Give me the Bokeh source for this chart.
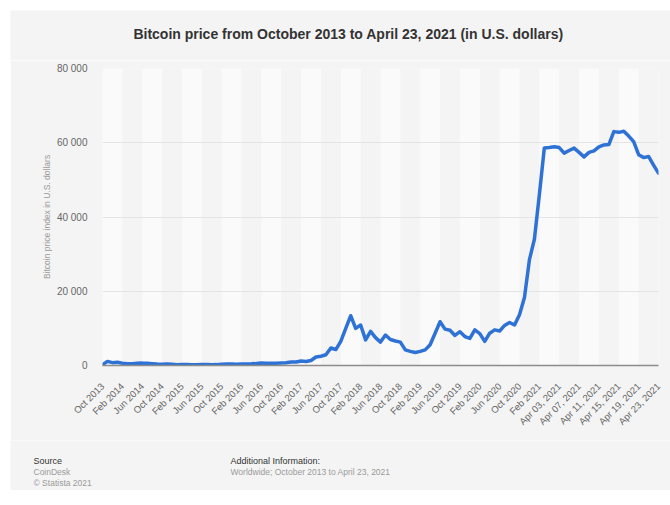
import math
from bokeh.plotting import figure
from bokeh.models import Range1d, FixedTicker, Spacer
from bokeh.layouts import column, row
from bokeh.core.properties import value
from bokeh.embed import file_html
from bokeh.resources import INLINE

# ---- data ----
month_names = ["Jan", "Feb", "Mar", "Apr", "May", "Jun", "Jul", "Aug", "Sep", "Oct", "Nov", "Dec"]
monthly_labels = []
for y in range(2013, 2022):
    for m in range(12):
        if (y == 2013 and m < 9) or (y == 2021 and m > 2):
            continue
        monthly_labels.append(f"{month_names[m]} {y}")
daily_labels = [f"Apr {d:02d}, 2021" for d in range(1, 24)]
categories = monthly_labels + daily_labels

monthly_values = [
    200, 1100, 760,                                   # 2013
    850, 600, 470, 450, 620, 640, 590, 480, 390, 340, 380, 320,   # 2014
    230, 255, 245, 235, 230, 265, 285, 230, 236, 315, 375, 430,   # 2015
    370, 435, 415, 450, 530, 670, 625, 575, 610, 700, 745, 965,   # 2016
    970, 1190, 1080, 1350, 2300, 2500, 2900, 4700, 4300, 6500, 10000, 13400,  # 2017
    10000, 10900, 6900, 9200, 7500, 6300, 8200, 7000, 6600, 6300, 4200, 3800,  # 2018
    3500, 3800, 4200, 5600, 8700, 11800, 9800, 9500, 8100, 9100, 7800, 7300,   # 2019
    9600, 8600, 6500, 8700, 9600, 9300, 10800, 11600, 10900, 13700, 18300, 28500,  # 2020
    34000, 46000, 58600,                              # 2021
]
daily_values = [
    58700, 58900, 58700, 57200, 57900, 58550, 57400, 56200, 57400, 57800,
    58900, 59400, 59500, 63000, 62800, 63100, 61800, 60300, 56800, 56000,
    56300, 54000, 51800,
]
values = monthly_values + daily_values

y_ticks = [0, 20000, 40000, 60000, 80000]
y_tick_labels = ["0", "20 000", "40 000", "60 000", "80 000"]

title_text = "Bitcoin price from October 2013 to April 23, 2021 (in U.S. dollars)"
y_axis_title = "Bitcoin price index in U.S. dollars"
source_head = "Source"
source_lines = ["CoinDesk", "\u00a9 Statista 2021"]
info_head = "Additional Information:"
info_lines = ["Worldwide; October 2013 to April 23, 2021"]

# ---- styling ----
n = len(categories)
xs = list(range(n))
BG = "#f4f4f4"
FONT = "Liberation Sans"
W = 660


def text_panel(height):
    f = figure(width=W, height=height, x_range=Range1d(0, W), y_range=Range1d(height, 0),
               output_backend="svg", toolbar_location=None,
               x_axis_location=None, y_axis_location=None,
               min_border=0, background_fill_color=BG, border_fill_color=BG,
               outline_line_color=None)
    f.frame_align = False
    f.xgrid.visible = False
    f.ygrid.visible = False
    return f


# header (title)
header = text_panel(50)
header.text(x=[338], y=[23], text=[title_text], text_font=value(FONT),
            text_font_size="14px", text_font_style="bold", text_color="#333333",
            text_align="center", text_baseline="middle")

# main chart
p = figure(width=W, height=380, x_range=Range1d(0, n - 1), y_range=Range1d(0, 80000),
           output_backend="svg", toolbar_location=None,
           min_border_left=92, min_border_right=12, min_border_top=8, min_border_bottom=75,
           background_fill_color=BG, border_fill_color=BG, outline_line_color=None)
p.frame_align = False

band_left = [k for k in range(0, n - 1, 8)]
band_right = [min(k + 4, n - 1) for k in band_left]
p.quad(left=band_left, right=band_right, bottom=0, top=80000,
       fill_color="#fafafa", line_color=None, level="image")

p.line(xs, values, line_width=3.5, line_color="#2e72d6", line_join="round", line_cap="round")

xt = list(range(0, n, 4))
p.xaxis.ticker = FixedTicker(ticks=xt)
p.xaxis.major_label_overrides = {i: categories[i] for i in xt}
p.xaxis.major_label_orientation = math.pi / 4
p.xaxis.major_tick_line_color = None
p.xaxis.minor_tick_line_color = None
p.xaxis.axis_line_color = "#8c8c8c"
p.xaxis.axis_line_width = 1.5
p.xaxis.major_label_text_font = FONT
p.xaxis.major_label_text_font_size = "9.5px"
p.xaxis.major_label_text_color = "#666666"
p.xaxis.major_label_standoff = 13

p.yaxis.ticker = FixedTicker(ticks=y_ticks)
p.yaxis.major_label_overrides = dict(zip(y_ticks, y_tick_labels))
p.yaxis.axis_line_color = None
p.yaxis.major_tick_line_color = None
p.yaxis.minor_tick_line_color = None
p.yaxis.major_label_text_font = FONT
p.yaxis.major_label_text_font_size = "10px"
p.yaxis.major_label_text_color = "#666666"
p.yaxis.major_label_standoff = 9
p.yaxis.axis_label = y_axis_title
p.yaxis.axis_label_text_font = FONT
p.yaxis.axis_label_text_font_size = "8.5px"
p.yaxis.axis_label_text_font_style = "normal"
p.yaxis.axis_label_text_color = "#9a9a9a"
p.yaxis.axis_label_standoff = 2

p.xgrid.grid_line_color = None
p.ygrid.grid_line_color = "#e4e4e4"
p.ygrid.grid_line_width = 1

# footer
footer = text_panel(50)
footer.text(x=[23, 220], y=[20, 20], text=[source_head, info_head], text_font=value(FONT),
            text_font_size="9px", text_color="#333333", text_baseline="middle")
footer.text(x=[23] * len(source_lines), y=[31 + 11 * i for i in range(len(source_lines))],
            text=source_lines, text_font=value(FONT), text_font_size="8.5px",
            text_color="#9a9a9a", text_baseline="middle")
footer.text(x=[220] * len(info_lines), y=[31 + 11 * i for i in range(len(info_lines))],
            text=info_lines, text_font=value(FONT), text_font_size="8.5px",
            text_color="#9a9a9a", text_baseline="middle")

layout = row(Spacer(width=10), column(Spacer(height=10), header, p, footer))

open("out.html", "w").write(file_html(layout, INLINE))
